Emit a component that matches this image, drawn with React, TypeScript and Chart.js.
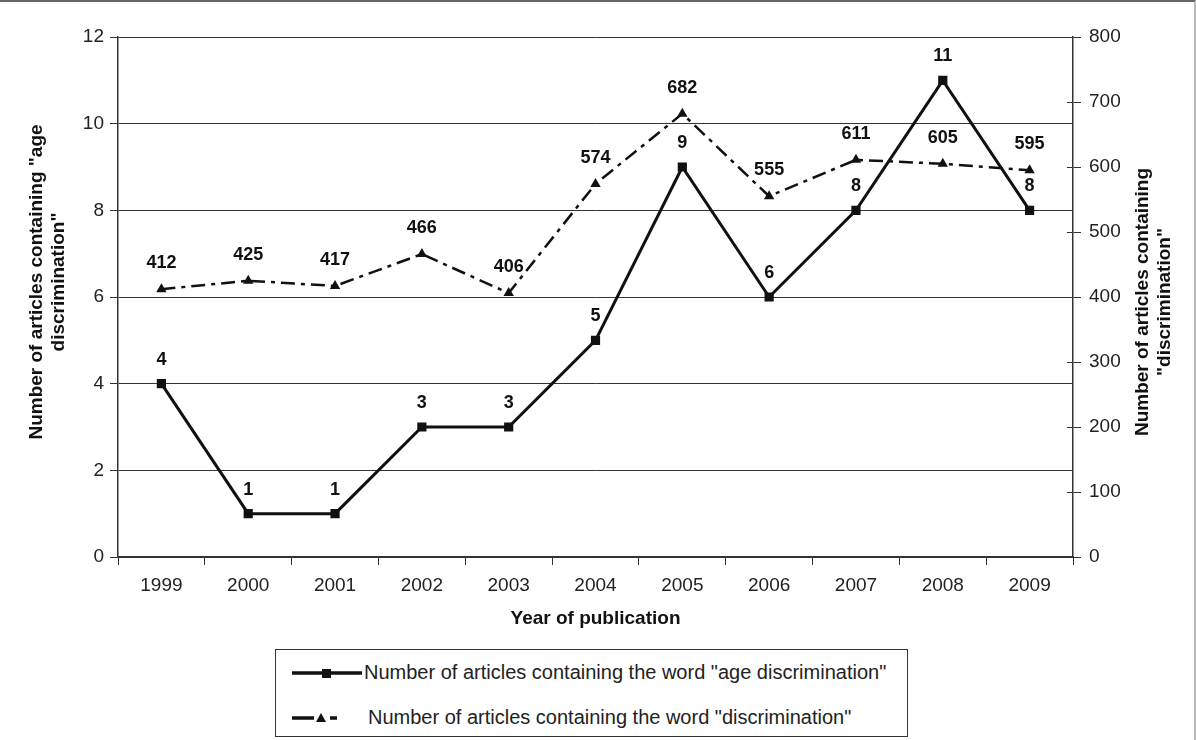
import React, { useEffect, useRef } from "react";
import { Chart, registerables } from "chart.js";

Chart.register(...registerables);

const years = ["1999", "2000", "2001", "2002", "2003", "2004", "2005", "2006", "2007", "2008", "2009"];
const ageDiscrimination = [4, 1, 1, 3, 3, 5, 9, 6, 8, 11, 8];
const discrimination = [412, 425, 417, 466, 406, 574, 682, 555, 611, 605, 595];

const leftTitle = ['Number of articles containing "age', 'discrimination"'];
const rightTitle = ["Number of articles containing", '"discrimination"'];
const xTitle = "Year of publication";
const legendAge = 'Number of articles containing the word "age discrimination"';
const legendDisc = 'Number of articles containing the word "discrimination"';

const FONT = "'Liberation Sans', Arial, sans-serif";
const DASH = [14, 6, 4, 6];

const overlayPlugin = {
  id: "overlay",
  afterDatasetsDraw(chart: any) {
    const ctx = chart.ctx;
    const area = chart.chartArea;
    ctx.save();
    const y1 = chart.scales.y1;
    ctx.strokeStyle = "#333";
    ctx.lineWidth = 1;
    y1.ticks.forEach((t: any) => {
      const py = Math.round(y1.getPixelForValue(t.value)) + 0.5;
      ctx.beginPath();
      ctx.moveTo(area.right - 6, py);
      ctx.lineTo(area.right, py);
      ctx.stroke();
    });
    ctx.fillStyle = "#111";
    ctx.font = `bold 18px ${FONT}`;
    ctx.textAlign = "center";
    ctx.textBaseline = "middle";
    const m0 = chart.getDatasetMeta(0);
    m0.data.forEach((p: any, i: number) => {
      ctx.fillText(String(ageDiscrimination[i]), p.x, p.y - 24);
    });
    const m1 = chart.getDatasetMeta(1);
    m1.data.forEach((p: any, i: number) => {
      ctx.fillText(String(discrimination[i]), p.x, p.y - 26);
    });
    ctx.font = `bold 19px ${FONT}`;
    ctx.fillText(xTitle, (area.left + area.right) / 2, 617);
    const drawRot = (lines: string[], xs: number[], cy: number) => {
      lines.forEach((l, i) => {
        ctx.save();
        ctx.translate(xs[i], cy);
        ctx.rotate(-Math.PI / 2);
        ctx.fillText(l, 0, 0);
        ctx.restore();
      });
    };
    drawRot(leftTitle, [37, 59], 280);
    drawRot(rightTitle, [1143, 1165], 300);
    ctx.restore();
  },
};

function LegendSymbol({ dashed }: { dashed: boolean }) {
  return (
    <svg width={dashed ? 78 : 74} height="14" style={{ display: "block" }}>
      {dashed ? (
        <>
          <line x1="2" y1="7" x2="24" y2="7" stroke="#111" strokeWidth="3.5" />
          <polygon points="31,2 36,11 26,11" fill="#111" />
          <line x1="40" y1="7" x2="47" y2="7" stroke="#111" strokeWidth="3.5" />
        </>
      ) : (
        <>
          <line x1="2" y1="7" x2="72" y2="7" stroke="#111" strokeWidth="3.5" />
          <rect x="32" y="3" width="9" height="9" fill="#111" />
        </>
      )}
    </svg>
  );
}

export default function App() {
  const ref = useRef<HTMLCanvasElement>(null);
  useEffect(() => {
    if (!ref.current) return;
    const tickFont = { family: FONT, size: 19 };
    const chart = new Chart(ref.current, {
      type: "line",
      data: {
        labels: years,
        datasets: [
          {
            label: legendAge,
            data: ageDiscrimination,
            yAxisID: "y",
            borderColor: "#111",
            backgroundColor: "#111",
            borderWidth: 3,
            pointStyle: "rect",
            pointRadius: 6.5,
            pointBorderWidth: 0,
            tension: 0,
          },
          {
            label: legendDisc,
            data: discrimination,
            yAxisID: "y1",
            borderColor: "#111",
            backgroundColor: "#111",
            borderWidth: 2.5,
            borderDash: DASH,
            pointStyle: "triangle",
            pointRadius: 6,
            pointBorderWidth: 0,
            tension: 0,
          },
        ],
      },
      options: {
        responsive: false,
        animation: false,
        devicePixelRatio: 1,
        layout: { padding: { top: 35, bottom: 105, left: 0, right: 0 } },
        plugins: { legend: { display: false }, tooltip: { enabled: false } },
        scales: {
          x: {
            type: "category",
            offset: true,
            grid: { offset: true, drawOnChartArea: false, tickLength: 8, color: "#333", lineWidth: 1 },
            border: { color: "#333", width: 1.5 },
            ticks: { font: tickFont, color: "#222", padding: 9, maxRotation: 0 },
            afterFit: (s: any) => {
              s.height = 80;
            },
          },
          y: {
            position: "left",
            min: 0,
            max: 12,
            ticks: { stepSize: 2, font: tickFont, color: "#222", padding: 6 },
            grid: { color: "#333", lineWidth: 1, tickLength: 8 },
            border: { color: "#333", width: 1.5 },
            afterFit: (s: any) => {
              s.width = 118;
            },
          },
          y1: {
            position: "right",
            min: 0,
            max: 800,
            ticks: { stepSize: 100, font: tickFont, color: "#222", padding: 8 },
            grid: { drawOnChartArea: false, color: "#333", lineWidth: 1, tickLength: 8 },
            border: { color: "#333", width: 1.5 },
            afterFit: (s: any) => {
              s.width = 123;
            },
          },
        },
      },
      plugins: [overlayPlugin],
    });
    return () => chart.destroy();
  }, []);

  return (
    <div
      style={{
        position: "absolute",
        left: 0,
        top: 0,
        width: 1196,
        height: 740,
        background: "#fff",
        boxSizing: "border-box",
        borderTop: "2px solid #666",
        borderRight: "2px solid #bbb",
        overflow: "hidden",
        fontFamily: FONT,
      }}
    >
      <canvas ref={ref} width={1196} height={740} style={{ position: "absolute", left: 0, top: 0 }} />
      <div
        style={{
          position: "absolute",
          left: 275,
          top: 647,
          width: 633,
          height: 88,
          boxSizing: "border-box",
          border: "1.5px solid #333",
          background: "#fff",
        }}
      >
        <div style={{ position: "absolute", left: 14, top: 11, display: "flex", alignItems: "center" }}>
          <LegendSymbol dashed={false} />
          <span style={{ fontSize: 20, color: "#222", whiteSpace: "nowrap" }}>{legendAge}</span>
        </div>
        <div style={{ position: "absolute", left: 14, top: 56, display: "flex", alignItems: "center" }}>
          <LegendSymbol dashed={true} />
          <span style={{ fontSize: 20, color: "#222", whiteSpace: "nowrap" }}>{legendDisc}</span>
        </div>
      </div>
    </div>
  );
}
